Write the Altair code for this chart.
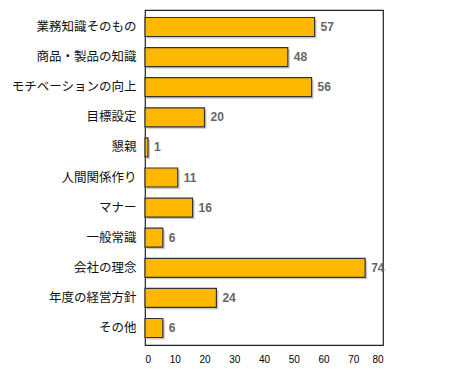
import altair as alt
import pandas as pd

categories = ["業務知識そのもの", "商品・製品の知識", "モチベーションの向上", "目標設定", "懇親",
              "人間関係作り", "マナー", "一般常識", "会社の理念", "年度の経営方針", "その他"]
values = [57, 48, 56, 20, 1, 11, 16, 6, 74, 24, 6]

df = pd.DataFrame({"cat": categories, "val": values})

yenc = alt.Y("cat:N", sort=categories, title=None,
             scale=alt.Scale(paddingInner=0.37, paddingOuter=0.25),
             axis=alt.Axis(labelFontSize=12.5, labelColor="#111", labelFont="Noto Sans CJK JP",
                           labelFontWeight="normal",
                           ticks=False, domain=False, labelPadding=9, labelLimit=300))
xenc = alt.X("val:Q", title=None, scale=alt.Scale(domain=[0, 80], nice=False),
             axis=alt.Axis(values=list(range(0, 81, 10)), ticks=False, domain=False, grid=False,
                           labelFontSize=10, labelColor="#000", labelFont="Liberation Sans",
                           labelPadding=9))

base = alt.Chart(df)
shadow = base.mark_bar(color="#bbbbbb", xOffset=2, yOffset=2, opacity=0.8).encode(x=xenc, y=yenc)
bars = base.mark_bar(color="#FFB800", stroke="#333333", strokeWidth=1.2).encode(x=xenc, y=yenc)
labels = base.mark_text(align="left", baseline="middle", dx=6, fontSize=12, fontWeight="bold",
                        color="#666666", font="Liberation Sans").encode(x=xenc, y=yenc, text="val:Q")

chart = (shadow + bars + labels).properties(
    width=238, height=335,
    autosize=alt.AutoSizeParams(type="none"),
    padding={"left": 137, "top": 2, "right": 30, "bottom": 20},
).configure_view(stroke="#222222", strokeWidth=1.2)

chart.save("out.html", embed_options={"renderer": "svg", "actions": False})
